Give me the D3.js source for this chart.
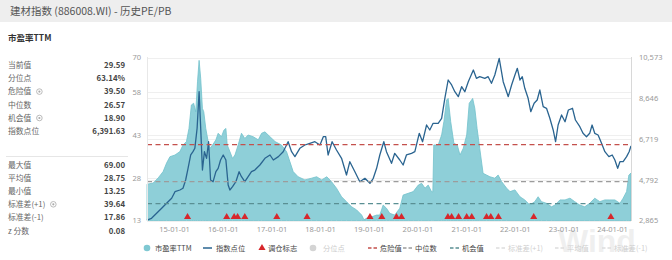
<!DOCTYPE html>
<html>
<head>
<meta charset="utf-8">
<script src="https://cdn.jsdelivr.net/npm/d3@7/dist/d3.min.js"></script>
<style>
  html, body { margin: 0; padding: 0; background: #fff; }
  svg { display: block; font-family: "Noto Sans CJK SC", "Noto Sans", sans-serif; }
</style>
</head>
<body>
<svg id="chart" width="672" height="260"></svg>
<script>
// PE TTM (area)
var peDates = ["2014-06-12","2014-07-28","2014-09-04","2014-10-11","2014-11-06","2014-12-01","2015-01-08","2015-02-14","2015-03-09","2015-04-04","2015-04-23","2015-05-11","2015-05-28","2015-06-13","2015-06-26","2015-07-08","2015-07-20","2015-08-02","2015-08-12","2015-08-27","2015-09-14","2015-09-27","2015-10-17","2015-11-11","2015-11-28","2015-12-23","2016-01-10","2016-01-25","2016-02-04","2016-02-24","2016-03-15","2016-04-02","2016-04-26","2016-05-21","2016-06-15","2016-07-10","2016-08-17","2016-09-24","2016-10-19","2016-11-13","2016-12-21","2017-01-28","2017-03-17","2017-04-24","2017-05-19","2017-06-13","2017-07-20","2017-09-09","2017-10-29","2017-12-06","2018-01-13","2018-02-20","2018-03-27","2018-05-04","2018-06-11","2018-07-18","2018-08-25","2018-10-02","2018-11-09","2018-11-26","2018-12-16","2019-01-23","2019-03-01","2019-03-25","2019-04-19","2019-05-14","2019-06-08","2019-07-15","2019-08-22","2019-09-16","2019-10-24","2019-12-01","2020-01-08","2020-02-02","2020-02-27","2020-03-22","2020-04-16","2020-04-26","2020-05-03","2020-06-05","2020-07-01","2020-07-18","2020-08-07","2020-08-19","2020-09-07","2020-10-01","2020-10-26","2020-11-16","2020-12-10","2021-01-05","2021-01-24","2021-02-19","2021-03-07","2021-03-24","2021-04-13","2021-05-08","2021-06-03","2021-06-28","2021-08-04","2021-08-29","2021-09-24","2021-11-01","2021-11-26","2022-01-02","2022-02-09","2022-03-17","2022-04-24","2022-05-31","2022-06-25","2022-07-20","2022-08-27","2022-10-04","2022-10-29","2022-12-06","2023-01-13","2023-02-19","2023-03-27","2023-05-04","2023-06-10","2023-07-17","2023-08-24","2023-10-01","2023-11-08","2023-12-15","2024-01-22","2024-02-29","2024-03-24","2024-04-19","2024-05-06","2024-05-22"];
var peValues = [25.7,26.1,27.9,30.1,33.1,35.3,35.9,37.1,39.4,40.6,45.2,53.4,54.0,51.0,61.5,69.0,62.7,52.2,51.0,45.2,40.6,38.2,39.4,41.2,43.5,42.3,44.6,45.2,39.4,37.1,34.7,35.9,39.4,43.5,41.7,42.9,42.3,41.2,43.5,44.0,42.3,40.6,39.4,37.1,33.6,30.1,28.3,27.2,27.8,28.3,27.2,28.3,26.6,24.3,21.3,19.6,17.8,16.7,14.9,13.25,13.8,14.3,14.9,14.9,18.4,17.3,15.5,14.9,17.3,21.9,22.5,23.1,25.4,26.0,24.3,25.4,23.1,23.0,39.4,39.4,42.9,47.6,55.1,55.7,47.6,40.0,39.4,35.9,38.2,42.9,54.0,55.7,52.2,45.2,38.2,29.5,28.9,28.3,27.8,28.9,26.6,24.3,23.1,23.7,21.3,20.2,18.4,19.6,21.3,19.6,19.0,17.8,18.4,20.2,20.2,20.8,19.6,18.4,17.8,19.0,20.8,19.6,20.2,20.2,20.2,19.0,20.8,23.1,28.9,29.59];

// index level (line)
var indexDates = ["2014-06-12","2014-07-16","2014-08-23","2014-09-30","2014-11-06","2014-12-14","2015-01-08","2015-02-14","2015-03-09","2015-03-29","2015-04-16","2015-05-06","2015-05-23","2015-06-06","2015-06-23","2015-07-08","2015-07-20","2015-08-02","2015-08-17","2015-09-02","2015-09-17","2015-10-02","2015-10-21","2015-11-11","2015-11-28","2015-12-16","2016-01-05","2016-01-25","2016-02-11","2016-02-24","2016-03-15","2016-04-09","2016-05-03","2016-05-21","2016-06-15","2016-07-10","2016-08-04","2016-08-29","2016-10-06","2016-11-13","2016-12-21","2017-01-15","2017-02-22","2017-03-30","2017-05-06","2017-06-01","2017-06-26","2017-08-02","2017-09-09","2017-10-16","2017-11-23","2017-12-31","2018-01-25","2018-02-12","2018-03-02","2018-04-01","2018-05-04","2018-06-11","2018-07-18","2018-08-12","2018-09-19","2018-10-26","2018-12-03","2019-01-10","2019-02-04","2019-03-01","2019-03-25","2019-04-24","2019-05-14","2019-06-21","2019-07-15","2019-08-22","2019-09-16","2019-10-11","2019-11-18","2019-12-13","2020-01-15","2020-02-09","2020-03-10","2020-04-03","2020-04-28","2020-06-05","2020-07-01","2020-07-25","2020-08-19","2020-09-14","2020-10-08","2020-11-03","2020-11-28","2020-12-22","2021-01-17","2021-02-24","2021-03-19","2021-04-13","2021-05-21","2021-06-15","2021-07-10","2021-08-04","2021-09-06","2021-10-06","2021-11-13","2021-12-08","2022-01-02","2022-01-20","2022-02-09","2022-02-26","2022-03-17","2022-04-11","2022-05-01","2022-05-26","2022-06-18","2022-07-08","2022-08-02","2022-08-27","2022-09-21","2022-10-16","2022-11-03","2022-11-22","2022-12-18","2023-01-13","2023-02-07","2023-03-10","2023-04-01","2023-05-04","2023-05-28","2023-06-23","2023-07-17","2023-08-04","2023-08-24","2023-09-18","2023-10-14","2023-11-08","2023-12-08","2024-01-02","2024-01-22","2024-02-12","2024-02-29","2024-03-24","2024-04-19","2024-05-08","2024-05-22"];
var indexValues = [2880,2969,3205,3442,3678,3915,4227,4307,4388,4780,5333,5963,6119,6279,7225,8956,7225,5253,6119,5806,6591,4780,4700,5173,5333,5726,5963,5726,4544,4307,4463,4700,5173,4936,4700,4936,5173,5250,5490,5806,5963,5726,5884,6119,6591,6119,5884,6279,6435,6516,6591,6435,6828,6828,5963,6591,6199,5806,5017,5647,5173,4700,4860,4624,4860,5333,5963,6591,6119,5570,6043,5726,5490,5963,6043,6119,6988,6591,7381,7145,7461,7461,7698,8644,9509,9273,8956,8720,9192,8956,9429,9982,9589,9666,9589,9666,9353,9746,10535,9429,8720,9273,9746,10062,9509,9666,9116,8644,8010,8407,8563,9036,8247,8171,7698,7145,6591,7381,7855,7537,8090,8171,7618,7301,6988,6828,6988,7381,6988,6908,6516,6119,5884,5963,5726,5333,5647,5647,5884,6119,6391.63];

// rebalancing markers
var tradeDates = ["2015-04-12","2016-01-31","2016-03-27","2016-04-22","2016-06-15","2017-02-10","2017-09-25","2019-01-10","2019-04-09","2019-07-28","2019-09-04","2020-08-17","2020-09-14","2020-11-05","2021-01-05","2021-02-12","2021-06-03","2021-07-05","2021-08-31","2022-05-23","2023-12-23"];

var leftTicks = [13, 28, 43, 58, 70];
var rightTicks = [2865, 4792, 6719, 8646, 10573];

var dangerValue = 39.50, medianValue = 26.57, chanceValue = 18.90;

var statsTop = [["当前值", "29.59", false], ["分位点", "63.14%", false], ["危险值", "39.50", true],
                ["中位数", "26.57", false], ["机会值", "18.90", true], ["指数点位", "6,391.63", false]];
var statsBottom = [["最大值", "69.00", false], ["平均值", "28.75", false], ["最小值", "13.25", false],
                   ["标准差(+1)", "39.64", true], ["标准差(-1)", "17.86", false], ["z 分数", "0.08", false]];

var svg = d3.select("#chart");
var parse = d3.timeParse("%Y-%m-%d");

// header
svg.append("rect").attr("x", 0).attr("y", 0).attr("width", 672).attr("height", 22).attr("fill", "#eeeeee");
svg.append("text").attr("x", 10).attr("y", 14.5).attr("font-size", 10.5).attr("fill", "#555")
    .text("建材指数 (886008.WI) - 历史PE/PB");
svg.append("text").attr("x", 8).attr("y", 40.5).attr("font-size", 8.5).attr("font-weight", "bold").attr("fill", "#333")
    .text("市盈率TTM");

// stats panel
function drawStats(rows, y0) {
    rows.forEach(function (r, i) {
        var y = y0 + i * 13.2;
        var t = svg.append("text").attr("x", 8).attr("y", y).attr("font-size", 7.8).attr("fill", "#666").text(r[0]);
        if (r[2]) {
            var w = t.node().getComputedTextLength();
            svg.append("circle").attr("cx", 8 + w + 8).attr("cy", y - 2.8).attr("r", 2.8)
                .attr("fill", "none").attr("stroke", "#aaa").attr("stroke-width", 0.8);
            svg.append("circle").attr("cx", 8 + w + 8).attr("cy", y - 2.8).attr("r", 1.1).attr("fill", "#aaa");
        }
        svg.append("text").attr("x", 125).attr("y", y).attr("text-anchor", "end").attr("font-size", 7.8)
            .attr("font-weight", "bold").attr("fill", "#444").text(r[1]);
    });
}
drawStats(statsTop, 68);
svg.append("line").attr("x1", 6).attr("x2", 128).attr("y1", 156.5).attr("y2", 156.5).attr("stroke", "#e6e6e6");
drawStats(statsBottom, 167.5);

// plot
var x = d3.scaleTime().domain([parse("2014-06-12"), parse("2024-05-22")]).range([147, 631]);
var yL = d3.scaleLinear().domain([13, 70]).range([220.5, 57.5]);
var yR = d3.scaleLinear().domain([2865, 10573]).range([220.5, 57.5]);

var grid = svg.append("g");
leftTicks.forEach(function (v) {
    grid.append("line").attr("x1", 147).attr("x2", 631).attr("y1", Math.round(yL(v)) + 0.5).attr("y2", Math.round(yL(v)) + 0.5)
        .attr("stroke", "#efefef");
});
rightTicks.forEach(function (v) {
    grid.append("line").attr("x1", 147).attr("x2", 631).attr("y1", Math.round(yR(v)) + 0.5).attr("y2", Math.round(yR(v)) + 0.5)
        .attr("stroke", "#efefef");
});

var pe = peDates.map(function (d, i) { return { date: parse(d), value: peValues[i] }; });
var idx = indexDates.map(function (d, i) { return { date: parse(d), value: indexValues[i] }; });

svg.append("path").datum(pe)
    .attr("fill", "#8ecfd8").attr("stroke", "#72c2cc").attr("stroke-width", 0.8)
    .attr("d", d3.area().x(function (d) { return x(d.date); }).y0(yL(13)).y1(function (d) { return yL(d.value); }));

svg.append("path").datum(idx)
    .attr("fill", "none").attr("stroke", "#2a6490").attr("stroke-width", 1.3).attr("stroke-linejoin", "round")
    .attr("d", d3.line().x(function (d) { return x(d.date); }).y(function (d) { return yR(d.value); }));

// reference lines
[[dangerValue, "#c4504c"], [medianValue, "#9c9c9c"], [chanceValue, "#5a8f93"]].forEach(function (r) {
    svg.append("line").attr("x1", 147).attr("x2", 631).attr("y1", yL(r[0])).attr("y2", yL(r[0]))
        .attr("stroke", r[1]).attr("stroke-width", 1.3).attr("stroke-dasharray", "5,3.5");
});

// frame edges
svg.append("line").attr("x1", 147.5).attr("x2", 147.5).attr("y1", 57).attr("y2", 221).attr("stroke", "#e8e8e8");
svg.append("line").attr("x1", 631.5).attr("x2", 631.5).attr("y1", 57).attr("y2", 221).attr("stroke", "#d8d8d8");

// trade markers
svg.append("g").selectAll("path").data(tradeDates).enter().append("path")
    .attr("transform", function (d) { return "translate(" + x(parse(d)) + ",217)"; })
    .attr("d", d3.symbol().type(d3.symbolTriangle).size(22))
    .attr("fill", "#d7262b");

// axes
var axL = svg.append("g").attr("transform", "translate(147,0)")
    .call(d3.axisLeft(yL).tickValues(leftTicks).tickSize(0).tickPadding(6).tickFormat(d3.format("d")));
var axR = svg.append("g").attr("transform", "translate(631,0)")
    .call(d3.axisRight(yR).tickValues(rightTicks).tickSize(0).tickPadding(8).tickFormat(d3.format(",")));
var axB = svg.append("g").attr("transform", "translate(0,221)")
    .call(d3.axisBottom(x).ticks(d3.timeYear.every(1)).tickSize(0).tickPadding(6).tickFormat(d3.timeFormat("%y-%m-%d")));
[axL, axR, axB].forEach(function (a) {
    a.select(".domain").remove();
    a.selectAll("text").attr("fill", "#999").attr("font-size", 7.5).attr("font-family", "Noto Sans, sans-serif");
});

// watermark
svg.append("text").attr("x", 558).attr("y", 252).attr("font-size", 32).attr("font-weight", "bold")
    .attr("font-family", "Liberation Sans, sans-serif").attr("fill", "#000").attr("opacity", 0.06).text("Wind");

// legend
var legend = svg.append("g").attr("font-size", 7.3);
function legText(x0, s, c) { legend.append("text").attr("x", x0).attr("y", 250.5).attr("fill", c).text(s); }
function legDash(x0, c) {
    legend.append("line").attr("x1", x0).attr("x2", x0 + 9).attr("y1", 248).attr("y2", 248)
        .attr("stroke", c).attr("stroke-width", 1.5).attr("stroke-dasharray", "3.5,2");
}
legend.append("circle").attr("cx", 147).attr("cy", 248).attr("r", 3.3).attr("fill", "#7fc8d2");
legText(155, "市盈率TTM", "#444");
legend.append("line").attr("x1", 203).attr("x2", 212).attr("y1", 248).attr("y2", 248).attr("stroke", "#2a6490").attr("stroke-width", 1.5);
legText(216, "指数点位", "#444");
legend.append("path").attr("transform", "translate(262,248)").attr("d", d3.symbol().type(d3.symbolTriangle).size(22)).attr("fill", "#d7262b");
legText(268, "调仓标志", "#444");
legend.append("circle").attr("cx", 313).attr("cy", 248).attr("r", 3.3).attr("fill", "#d4d4d4");
legText(323, "分位点", "#ccc");
legDash(368, "#c4504c"); legText(380, "危险值", "#444");
legDash(403, "#9c9c9c"); legText(415, "中位数", "#444");
legDash(450, "#5a8f93"); legText(462, "机会值", "#444");
legDash(496, "#dddddd"); legText(508, "标准差(+1)", "#cfcfcf");
legDash(555, "#dddddd"); legText(567, "平均值", "#cfcfcf");
legDash(602, "#dddddd"); legText(614, "标准差(-1)", "#cfcfcf");
</script>
</body>
</html>
